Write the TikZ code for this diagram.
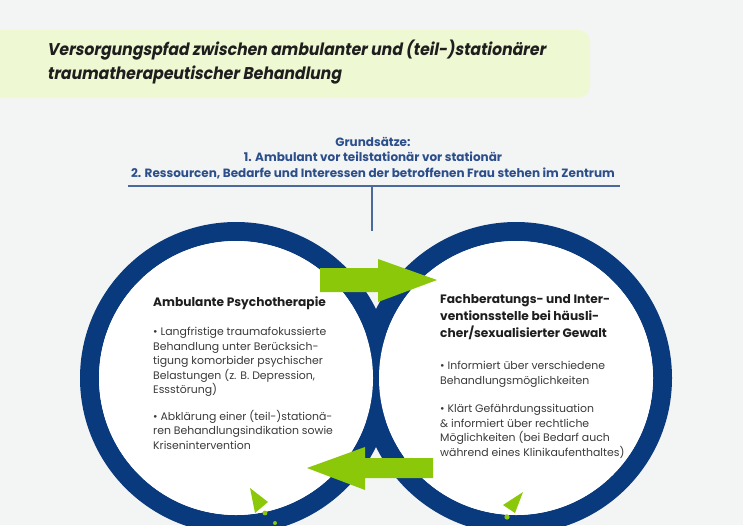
\documentclass[tikz,border=0pt]{standalone}
\usepackage{fontspec}
\setmainfont{Poppins}
\newfontfamily\titlefont{Poppins}[FakeSlant=0.18,FakeStretch=0.92]
\definecolor{navy}{HTML}{0A3A7E}
\definecolor{bgc}{HTML}{F3F4F4}
\definecolor{bannerc}{HTML}{EEF8D2}
\definecolor{greenc}{HTML}{8CC80A}
\definecolor{blueText}{HTML}{2C4F8C}
\definecolor{lineblue}{HTML}{4A6A9C}
\definecolor{headc}{HTML}{1E1E1E}
\definecolor{bodyc}{HTML}{3A3A3A}
\tikzset{
  titletext/.style={font=\titlefont\bfseries\fontsize{17}{24.5}\selectfont, text=headc, align=left, inner sep=0pt},
  grundtext/.style={font=\bfseries\fontsize{12}{15.3}\selectfont, text=blueText, align=center, inner sep=0pt},
  headtext/.style={font=\bfseries\fontsize{12.2}{17}\selectfont, text=headc, align=left, inner sep=0pt},
  bodytext/.style={font=\fontsize{10.9}{14.5}\selectfont, text=bodyc, align=left, inner sep=0pt},
  ring/.style={draw=navy, line width=19pt},
  blockarrow/.style={fill=greenc},
}
\begin{document}
\begin{tikzpicture}[x=1pt,y=-1pt]
\useasboundingbox (0,0) rectangle (743,525);
\clip (0,0) rectangle (743,525);
\fill[bgc] (0,0) rectangle (743,525);
% banner
\fill[bannerc, rounded corners=12pt] (-20,30) rectangle (590,98);
\node[titletext, anchor=west] (title) at (47,62) {Versorgungspfad zwischen ambulanter und (teil-)stationärer\\traumatherapeutischer Behandlung};
% Grundsätze
\node[grundtext] (grund) at (373,158) {Grundsätze:\\1. Ambulant vor teilstationär vor stationär\\2. Ressourcen, Bedarfe und Interessen der betroffenen Frau stehen im Zentrum};
\coordinate (hl) at (128,186);
\coordinate (hr) at (620,186);
\coordinate (hm) at (372,186);
\coordinate (vend) at (372,231);
\draw[lineblue, line width=1.6pt] (hl) -- (hr);
\draw[lineblue, line width=1.6pt] (hm) -- (vend);
% circles
\coordinate (lc) at (236,378);
\coordinate (rc) at (516,378);
\draw[ring] (lc) circle (146.5pt);
\draw[ring] (rc) circle (146.5pt);
\fill[white] (lc) circle (137pt);
\fill[white] (rc) circle (137pt);
% arrows
\fill[blockarrow] (320,268) -- (378,268) -- (378,259) -- (437,280) -- (378,302) -- (378,292) -- (320,292) -- cycle;
\fill[blockarrow] (433,458) -- (365,458) -- (365,447) -- (307,468) -- (365,490) -- (365,478) -- (433,478) -- cycle;
% small triangles
\fill[greenc] (250,488) -- (268,502) -- (255,513) -- cycle;
\fill[greenc] (265,513) circle (2.4pt);
\fill[greenc] (275,523) circle (2pt);
\fill[greenc] (503,505) -- (523,492) -- (515,513) -- cycle;
\fill[greenc] (507,517) circle (2.6pt);
% left text
\node[headtext, anchor=west] (lhead) at (153,303) {Ambulante Psychotherapie};
\node[bodytext, anchor=north west] (lp1) at (153,327) {• Langfristige traumafokussierte\\Behandlung unter Berücksich-\\tigung komorbider psychischer\\Belastungen (z. B. Depression,\\Essstörung)};
\node[bodytext, anchor=north west] (lp2) at (153,410) {• Abklärung einer (teil-)stationä-\\ren Behandlungsindikation sowie\\Krisenintervention};
% right text
\node[headtext, anchor=north west] (rhead) at (440,294) {Fachberatungs- und Inter-\\ventionsstelle bei häusli-\\cher/sexualisierter Gewalt};
\node[bodytext, anchor=north west] (rp1) at (440,361) {• Informiert über verschiedene\\Behandlungsmöglichkeiten};
\node[bodytext, anchor=north west] (rp2) at (440,404) {• Klärt Gefährdungssituation\\\& informiert über rechtliche\\Möglichkeiten (bei Bedarf auch\\während eines Klinikaufenthaltes)};
\end{tikzpicture}
\end{document}
